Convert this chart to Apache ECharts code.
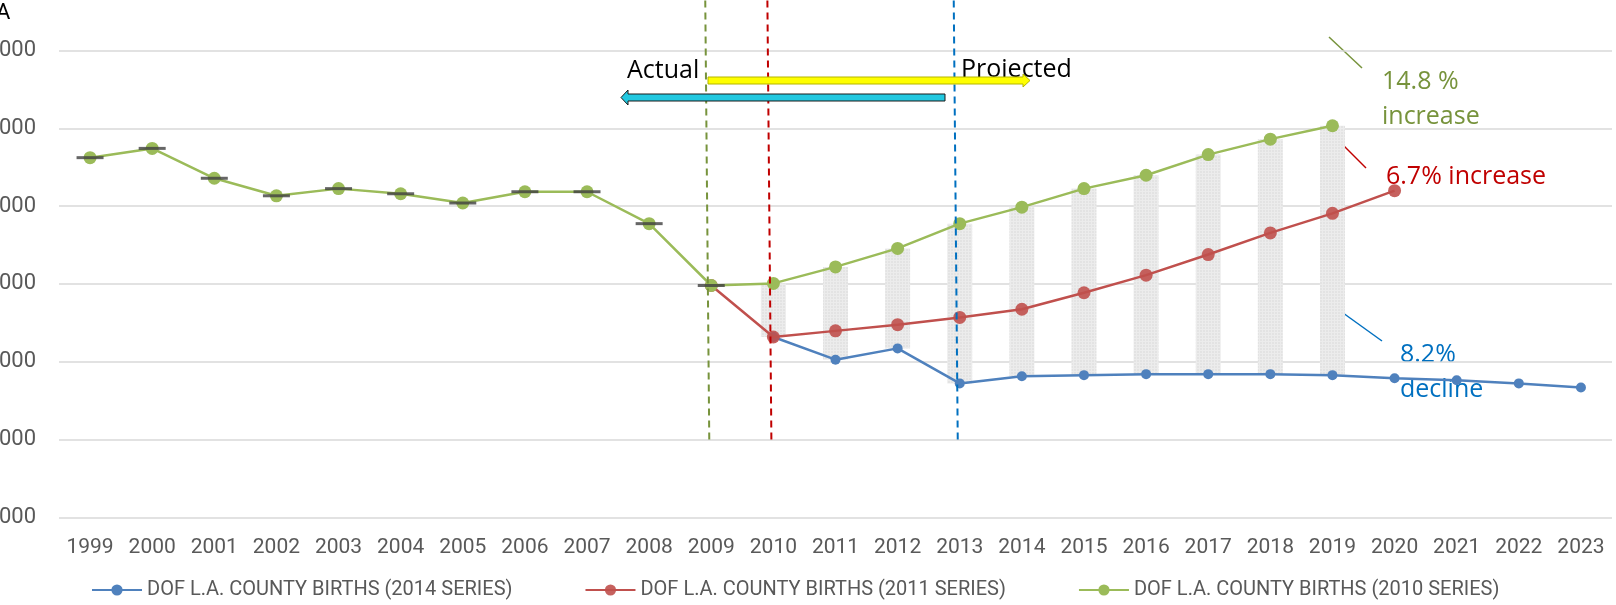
<!DOCTYPE html>
<html><head><meta charset="utf-8">
<script src="https://cdn.jsdelivr.net/npm/echarts@6/dist/echarts.min.js"></script>
<style>html,body{margin:0;padding:0;background:#fff}#c{width:1616px;height:605px}</style>
</head><body><div id="c"></div>
<script>
var years = ['1999','2000','2001','2002','2003','2004','2005','2006','2007','2008','2009','2010','2011','2012','2013','2014','2015','2016','2017','2018','2019','2020','2021','2022','2023'];
var births2014 = [null,null,null,null,null,null,null,null,null,null,null,123180,120270,121720,117220,118150,118280,118410,118410,118410,118280,117880,117620,117220,116690];
var births2011 = [null,null,null,null,null,null,null,null,null,null,129800,123180,123970,124770,125700,126750,128870,131130,133780,136560,139070,141990,null,null,null];
var births2010 = [146230,147420,143580,141330,142250,141590,140400,141850,141850,137750,129800,130070,132190,134570,137750,139870,142250,143970,146620,148610,150330,null,null,null,null];
var actual = [146230,147420,143580,141330,142250,141590,140400,141850,141850,137750,129800,null,null,null,null,null,null,null,null,null,null,null,null,null,null];
var yTicks = [100000,110000,120000,130000,140000,150000,160000];
var seriesNames = ['DOF L.A. COUNTY BIRTHS (2014 SERIES)','DOF L.A. COUNTY BIRTHS (2011 SERIES)','DOF L.A. COUNTY BIRTHS (2010 SERIES)'];
var vlineYears = ['2009','2010','2013'];
var vlineBase = [110000,110000,110000];
var vlineColors = ['#77933C','#C00000','#0070C0'];

var rangeLow = years.map(function(y,i){ return (i>=11 && i<=20) ? births2014[i] : null; });
var rangeSpan = years.map(function(y,i){ return (i>=11 && i<=20) ? births2010[i]-births2014[i] : null; });

var FONT = 'Roboto';
var chart = echarts.init(document.getElementById('c'));
chart.setOption({
  animation:false,
  grid:{left:59, right:4, top:50.5, bottom:87.6, containLabel:false, outerBoundsMode:'none'},
  xAxis:{type:'category', data:years, axisLine:{show:false}, axisTick:{show:false},
    axisLabel:{interval:0, hideOverlap:false, color:'#595959', fontFamily:FONT, fontSize:21, margin:20}},
  yAxis:{type:'value', min:yTicks[0], max:yTicks[yTicks.length-1], interval:10000,
    axisLine:{show:false}, axisTick:{show:false},
    splitLine:{lineStyle:{color:'#d9d9d9', width:1.5}},
    axisLabel:{color:'#595959', fontFamily:FONT, fontSize:22, margin:23, formatter:function(v){return String(v);}}},
  legend:{data:seriesNames, bottom:0, left:86, itemWidth:50, itemHeight:14, itemGap:72,
    textStyle:{color:'#595959', fontFamily:FONT, fontSize:20}},
  series:[
    {type:'bar', data:rangeLow, stack:'r', barWidth:25, itemStyle:{color:'rgba(0,0,0,0)'}, silent:true, z:1},
    {type:'bar', data:rangeSpan, stack:'r', barWidth:25, z:1,
      itemStyle:{color:'#ececec', decal:{symbol:'rect', symbolSize:0.6, color:'rgba(190,190,190,0.6)', dashArrayX:[2,1], dashArrayY:[2,1]}}},
    {name:seriesNames[0], type:'line', data:births2014, color:'#4F81BD',
      symbol:'circle', symbolSize:10, lineStyle:{width:2.5}, z:3},
    {name:seriesNames[1], type:'line', data:births2011, color:'#C0504D',
      symbol:'circle', symbolSize:13, lineStyle:{width:2.5}, itemStyle:{opacity:0.9}, z:4},
    {name:seriesNames[2], type:'line', data:births2010, color:'#9BBB59',
      symbol:'circle', symbolSize:13, lineStyle:{width:2.5}, z:5},
    {type:'scatter', data:actual, symbol:'rect', symbolSize:[27,3], itemStyle:{color:'#404040'}, z:6, silent:true},
    {type:'custom', silent:true, z:7, clip:false,
      data:vlineYears.map(function(y,i){ return [y, vlineBase[i], i]; }),
      renderItem:function(params, api){
        var p = api.coord([api.value(0), api.value(1)]);
        return {type:'line', shape:{x1:p[0]-2, y1:p[1], x2:p[0]-6, y2:0},
          style:{stroke:vlineColors[api.value(2)], lineWidth:2, lineDash:[7,5]}};
      }}
  ],
  graphic:[
    {type:'text', left:-4, top:2, style:{text:'A', fontSize:22, fontFamily:FONT, fill:'#000'}},
    {type:'text', left:627, top:58, style:{text:'Actual', fontSize:25, fontFamily:'Open Sans', fill:'#000'}},
    {type:'text', left:961, top:57, style:{text:'Projected', fontSize:25, fontFamily:'Open Sans', fill:'#000'}},
    {type:'polygon', shape:{points:[[708,77],[1023,77],[1023,74],[1030,80.5],[1023,87],[1023,84],[708,84]]},
      style:{fill:'#ffff00', stroke:'#b5b500', lineWidth:1}, z:10},
    {type:'polygon', shape:{points:[[945,94],[628,94],[628,90],[621,97.5],[628,105],[628,101],[945,101]]},
      style:{fill:'#22c8e0', stroke:'#1a1a1a', lineWidth:1}, z:10},
    {type:'line', shape:{x1:1329,y1:37,x2:1362,y2:68}, style:{stroke:'#77933C', lineWidth:1.5}},
    {type:'text', left:1382, top:64, style:{text:'14.8 %\nincrease', fontSize:25, lineHeight:35, fontFamily:'Open Sans', fill:'#77933C'}},
    {type:'line', shape:{x1:1329,y1:131,x2:1366,y2:168}, style:{stroke:'#C00000', lineWidth:1.5}},
    {type:'text', left:1386, top:164, style:{text:'6.7% increase', fontSize:25, fontFamily:'Open Sans', fill:'#C00000'}},
    {type:'line', shape:{x1:1325,y1:300,x2:1382,y2:341}, style:{stroke:'#0070C0', lineWidth:1.5}},
    {type:'text', left:1400, top:337, style:{text:'8.2%\ndecline', fontSize:25, lineHeight:35, fontFamily:'Open Sans', fill:'#0070C0'}}
  ]
});
</script></body></html>
